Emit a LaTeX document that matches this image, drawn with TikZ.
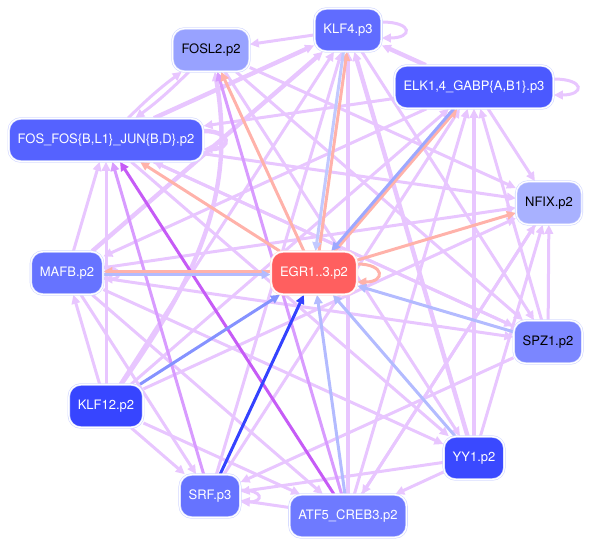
\documentclass[tikz,border=0pt]{standalone}
\usepackage{fontspec}
\setmainfont{TeX Gyre Heros}
\usepackage{xcolor}
\usepackage{tikz}
\usetikzlibrary{arrows.meta,backgrounds}
% node fills
\definecolor{halo}{HTML}{D2D7FF}
\definecolor{cK4}{HTML}{606CFF}
\definecolor{cF2}{HTML}{98A2FF}
\definecolor{cE}{HTML}{4B59FF}
\definecolor{cF}{HTML}{5562FF}
\definecolor{cN}{HTML}{A8B1FF}
\definecolor{cM}{HTML}{6673FF}
\definecolor{cG}{HTML}{FF5F5F}
\definecolor{cS}{HTML}{7B86FF}
\definecolor{cK12}{HTML}{3745FF}
\definecolor{cY}{HTML}{3A49FF}
\definecolor{cR}{HTML}{6673FF}
\definecolor{cA}{HTML}{6E7AFF}
% edge colours
\definecolor{lp}{HTML}{E8C6FF}
\definecolor{mp}{HTML}{D89BFF}
\definecolor{dp}{HTML}{C65BF6}
\definecolor{pk}{HTML}{FFB2AA}
\definecolor{lb}{HTML}{B3BBFF}
\definecolor{mb}{HTML}{8592FF}
\definecolor{db}{HTML}{3442FF}

\begin{document}
\begin{tikzpicture}[x=1pt,y=-1pt,
  font=\fontsize{13}{15}\selectfont,
  tfbox/.style={draw=halo,double=white,double distance=1.2pt,line width=.6pt,
                rounded corners=12pt,minimum height=43pt,inner xsep=9pt,
                fill=#1,text=white},
  link/.style={draw=#1,line width=3pt,-{Triangle[length=9pt,width=8.5pt]}},
  heavy/.style={line width=4.4pt}]
\useasboundingbox (0,0) rectangle (591,546);

\node[tfbox=cK4] (K4) at (348,30) {KLF4.p3};
\node[tfbox=cF2,text=black] (F2) at (211,50) {FOSL2.p2};
\node[tfbox=cE] (E) at (474,87) {ELK1,4\_GABP\{A,B1\}.p3};
\node[tfbox=cF] (F) at (106,140) {FOS\_FOS\{B,L1\}\_JUN\{B,D\}.p2};
\node[tfbox=cN,text=black] (N) at (549,203) {NFIX.p2};
\node[tfbox=cM] (M) at (67,273) {MAFB.p2};
\node[tfbox=cG,draw=cG!25] (G) at (314,273) {EGR1..3.p2};
\node[tfbox=cS,text=black] (S) at (548,342) {SPZ1.p2};
\node[tfbox=cK12] (K12) at (106,406) {KLF12.p2};
\node[tfbox=cY] (Y) at (474,458) {YY1.p2};
\node[tfbox=cR] (R) at (210,496) {SRF.p3};
\node[tfbox=cA] (A) at (348,516) {ATF5\_CREB3.p2};

\begin{scope}[on background layer]
% light interactions
\draw[link=lp] (K4) -- (F2);
\draw[link=lp,heavy] (E) -- (K4);
\draw[link=lp,heavy] (F) -- (K4);
\draw[link=lp] (F) to[bend left=4] (F2);
\draw[link=lp] (F2) to[bend left=4] (F);
\draw[link=lp] (E) -- (F);
\draw[link=lp] (M) -- (F);
\draw[link=lp] (K12) -- (F);
\draw[link=lp] (S) -- (F);
\draw[link=lp] (F) -- (N);
\draw[link=lp,heavy] (K12) to[out=55,in=-80] (F2);
\draw[link=lp,heavy] (M) -- (K4);
\draw[link=lp] (K12) -- (K4);
\draw[link=lp] (R) -- (K4);
\draw[link=lp,heavy] (Y) -- (K4);
\draw[link=lp,heavy] (A) -- (K4);
\draw[link=lp] (K4) -- (S);
\draw[link=lp] (F2) -- (N);
\draw[link=lp] (F2) -- (Y);
\draw[link=lp] (F2) -- (S);
\draw[link=lp] (E) -- (N);
\draw[link=lp,heavy] (Y) -- (E);
\draw[link=lp] (S) -- (E);
\draw[link=lp] (A) -- (E);
\draw[link=lp] (R) -- (E);
\draw[link=lp] (K12) -- (E);
\draw[link=lp] (E) -- (M);
\draw[link=lp] (Y) -- (N);
\draw[link=lp] (S) -- (N);
\draw[link=lp] (A) -- (N);
\draw[link=lp] (M) -- (N);
\draw[link=lp] (K12) -- (N);
\draw[link=lp] (K12) -- (R);
\draw[link=lp] (M) -- (R);
\draw[link=lp] (Y) -- (R);
\draw[link=lp] (S) -- (R);
\draw[link=lp] (A) -- (R);
\draw[link=lp] (Y) -- (A);
\draw[link=lp] (N) -- (A);
\draw[link=lp] (K12) -- (A);
\draw[link=lp] (M) -- (A);
\draw[link=lp] (K12) -- (M);
\draw[link=lp] (F) -- (Y);
\draw[link=lp] (F) -- (S);
\draw[link=lp] (M) -- (Y);
\draw[link=lp] (M) -- (S);
% self loops
\draw[link=lp] ([yshift=8pt]K4.east) to[out=0,in=0,looseness=5] ([yshift=-8pt]K4.east);
\draw[link=lp] ([yshift=8pt]E.east) to[out=0,in=0,looseness=5] ([yshift=-8pt]E.east);
\draw[link=lp,heavy] ([yshift=9pt]F.east) to[out=0,in=0,looseness=4] ([yshift=-9pt]F.east);
\draw[link=lp] ([yshift=6pt]R.east) to[out=0,in=0,looseness=5] ([yshift=-6pt]R.east);
\draw[link=lp] ([yshift=6pt]M.east) to[out=0,in=0,looseness=4] ([yshift=-6pt]M.east);
% stronger ones
\draw[link=mp] (R) -- (F);
\draw[link=mp] (A) -- (F2);
\draw[link=dp] (A) -- (F);
% EGR1..3
\draw[link=pk] ([yshift=9pt]G.east) to[out=0,in=0,looseness=4] ([yshift=-9pt]G.east);
\draw[link=pk,transform canvas={xshift=2pt}] (G) -- (K4);
\draw[link=lb!80,transform canvas={xshift=-1.5pt}] (K4) -- (G);
\draw[link=pk,transform canvas={xshift=2pt}] (G) -- (E);
\draw[link=mb!80,transform canvas={xshift=-1.5pt}] (E) -- (G);
\draw[link=pk] (G) -- (F);
\draw[link=pk] (G) -- (F2);
\draw[link=pk] (G) -- (N);
\draw[link=pk,transform canvas={yshift=1.5pt}] (G) -- (M);
\draw[link=lb,transform canvas={yshift=-1.5pt}] (M) -- (G);
\draw[link=lb] (S) -- (G);
\draw[link=lb] (Y) -- (G);
\draw[link=lb] (A) -- (G);
\draw[link=mb] (K12) -- (G);
\draw[link=db] (R) -- (G);
\end{scope}
\end{tikzpicture}
\end{document}
